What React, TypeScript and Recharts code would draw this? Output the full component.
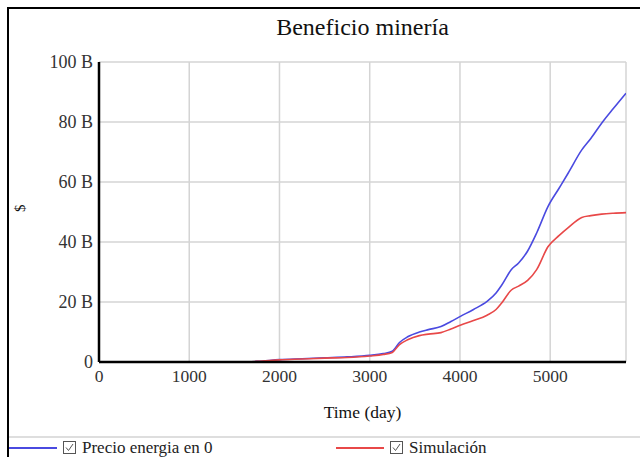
import React from "react";
import {
  LineChart,
  Line,
  XAxis,
  YAxis,
  CartesianGrid,
  Legend,
} from "recharts";

// Time in days
const days = [
  0, 500, 1000, 1500, 1750, 2000, 2250, 2500, 2750, 3000, 3150, 3250, 3330,
  3420, 3550, 3650, 3790, 3900, 4010, 4150, 4300, 4400, 4460, 4570, 4650, 4750,
  4850, 4975, 5100, 5200, 5350, 5450, 5570, 5700, 5840,
];

// Values in billions of $
const precioEnergia0 = [
  0, 0, 0, 0.05, 0.2, 0.8, 1.1, 1.4, 1.7, 2.2, 2.8, 3.6, 6.5, 8.4, 10, 10.8,
  11.8, 13.5, 15.3, 17.5, 20.2, 23, 25.5, 30.8, 33, 37, 43, 51.8, 58, 63, 70.7,
  74.5, 79.6, 84.5, 89.6,
];
const simulacion = [
  0, 0, 0, 0.05, 0.2, 0.7, 1, 1.3, 1.5, 2.0, 2.5, 3.2, 5.8, 7.4, 8.8, 9.3, 9.8,
  11, 12.3, 13.8, 15.6, 17.5, 19.6, 24, 25.3, 27.2, 30.8, 38.4, 42.2, 44.8,
  48.2, 48.8, 49.3, 49.6, 49.8,
];

const xTicks = [0, 1000, 2000, 3000, 4000, 5000];
const yTicks = [0, 20, 40, 60, 80, 100];

const seriesNames = ["Precio energia en 0", "Simulación"];
const BLUE = "#4a4ae0";
const RED = "#e84848";
const FONT = "'Liberation Serif', 'Times New Roman', serif";

const data = days.map((d, i) => ({
  day: d,
  precio: precioEnergia0[i],
  sim: simulacion[i],
}));

function CheckBox() {
  return (
    <svg width={14} height={14} style={{ marginRight: 5 }}>
      <rect x={0.5} y={0.5} width={12} height={12} fill="#fff" stroke="#555" />
      <polyline
        points="3,6.5 5.5,9.5 10,3"
        fill="none"
        stroke="#555"
        strokeWidth={1}
      />
    </svg>
  );
}

function LegendContent() {
  const items = [
    { name: seriesNames[0], color: BLUE, left: 0 },
    { name: seriesNames[1], color: RED, left: 327 },
  ];
  return (
    <div style={{ position: "relative", height: 20 }}>
      {items.map((it) => (
        <div
          key={it.name}
          style={{
            position: "absolute",
            left: it.left,
            top: 0,
            display: "flex",
            alignItems: "center",
            fontFamily: FONT,
            fontSize: 17,
            lineHeight: "18px",
            color: "#222",
            whiteSpace: "nowrap",
          }}
        >
          <div
            style={{
              width: 48,
              height: 2,
              background: it.color,
              marginRight: 6,
            }}
          />
          <CheckBox />
          <span>{it.name}</span>
        </div>
      ))}
    </div>
  );
}

export default function App() {
  return (
    <div
      style={{
        position: "absolute",
        left: 0,
        top: 0,
        width: 640,
        height: 457,
        background: "#fff",
        overflow: "hidden",
      }}
    >
      <div
        style={{
          position: "absolute",
          left: 7,
          top: 7,
          width: 650,
          height: 470,
          borderLeft: "2.5px solid #000",
          borderTop: "2.5px solid #000",
        }}
      />
      <div
        style={{
          position: "absolute",
          left: 9,
          top: 436,
          width: 640,
          height: 1.5,
          background: "#dedede",
        }}
      />
      <div
        style={{
          position: "absolute",
          left: 99,
          width: 527,
          top: 14,
          textAlign: "center",
          fontFamily: FONT,
          fontSize: 24,
          color: "#111",
        }}
      >
        Beneficio minería
      </div>
      <div style={{ position: "absolute", left: 0, top: 0 }}>
        <LineChart
          width={640}
          height={457}
          data={data}
          margin={{ top: 62, right: 14, bottom: 35, left: 0 }}
        >
          <CartesianGrid stroke="#d4d4d4" strokeWidth={1.5} />
          <XAxis
            dataKey="day"
            type="number"
            domain={[0, 5840]}
            ticks={xTicks}
            allowDataOverflow
            height={60}
            tickLine={false}
            axisLine={{ stroke: "#000", strokeWidth: 2.5 }}
            tick={{ fill: "#333", fontSize: 17.5, fontFamily: FONT }}
            tickMargin={2}
            label={{
              value: "Time (day)",
              position: "insideBottom",
              offset: 4,
              fill: "#111",
              fontSize: 17.5,
              fontFamily: FONT,
            }}
          />
          <XAxis
            xAxisId="top"
            orientation="top"
            dataKey="day"
            type="number"
            domain={[0, 5840]}
            height={0}
            tick={false}
            tickLine={false}
            axisLine={{ stroke: "#000", strokeWidth: 2.5 }}
          />
          <YAxis
            type="number"
            domain={[0, 100]}
            ticks={yTicks}
            width={99}
            tickLine={false}
            axisLine={{ stroke: "#000", strokeWidth: 2.5 }}
            tick={{ fill: "#333", fontSize: 18, fontFamily: FONT }}
            tickMargin={0}
            tickFormatter={(v: number) => (v === 0 ? "0" : `${v} B`)}
            label={{
              value: "$",
              angle: -90,
              position: "insideLeft",
              offset: 20,
              fill: "#111",
              fontSize: 15,
              fontFamily: FONT,
            }}
          />
          <YAxis
            yAxisId="right"
            orientation="right"
            domain={[0, 100]}
            width={0}
            tick={false}
            tickLine={false}
            axisLine={{ stroke: "#000", strokeWidth: 2.5 }}
          />
          <Line
            type="monotone"
            dataKey="precio"
            name={seriesNames[0]}
            stroke={BLUE}
            strokeWidth={1.6}
            dot={false}
            isAnimationActive={false}
          />
          <Line
            type="monotone"
            dataKey="sim"
            name={seriesNames[1]}
            stroke={RED}
            strokeWidth={1.6}
            dot={false}
            isAnimationActive={false}
          />
          <Legend
            layout="horizontal"
            verticalAlign="middle"
            align="center"
            content={() => <LegendContent />}
            wrapperStyle={{ top: 439, left: 9, width: 630 }}
          />
        </LineChart>
      </div>
    </div>
  );
}
